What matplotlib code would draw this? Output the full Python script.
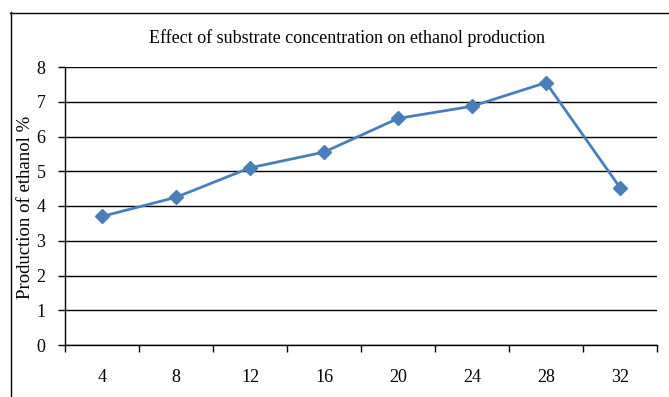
import numpy as np
import matplotlib.pyplot as plt
from matplotlib.lines import Line2D

# data
concentration = ['4', '8', '12', '16', '20', '24', '28', '32']
ethanol = [3.7, 4.25, 5.1, 5.55, 6.52, 6.87, 7.55, 4.53]

plt.rcParams['font.family'] = ['Liberation Serif', 'DejaVu Serif']

fig = plt.figure(figsize=(6.69, 3.97), dpi=100)
ax = fig.add_axes([65/669, 1-345/397, 592/669, 278/397])

pos = np.arange(len(concentration))
ax.plot(pos, ethanol, color='#4A7EBB', lw=2.0, marker='D', markersize=7,
        markerfacecolor='#4A7EBB', markeredgecolor='#4A7EBB', zorder=3)

ax.set_xlim(-0.5, len(concentration) - 0.5)
ax.set_ylim(0, 8)
ax.set_yticks(range(0, 9))
ax.yaxis.grid(True, color='black', lw=1.0)
ax.set_axisbelow(True)

# category labels centred, tick marks between categories
ax.set_xticks(np.arange(-0.5, len(concentration)), minor=False)
ax.set_xticklabels([])
ax.set_xticks(pos, minor=True)
ax.set_xticklabels(concentration, minor=True)
ax.tick_params(axis='x', which='minor', length=0, pad=17, labelsize=13)
ax.tick_params(axis='x', which='major', length=5, direction='out', width=1)
ax.tick_params(axis='y', length=5, direction='out', width=1, labelsize=13, pad=9)

for s in ['top', 'right']:
    ax.spines[s].set_visible(False)
for s in ['left', 'bottom']:
    ax.spines[s].set_color('black')
    ax.spines[s].set_linewidth(1.0)

ax.set_ylabel('Production of ethanol %', fontsize=13.5)
ax.yaxis.set_label_coords(-0.052, 0.495)
fig.text(347/669, 1-38/397, 'Effect of substrate concentration on ethanol production',
         ha='center', va='center', fontsize=13)

# outer chart frame (only left and top edges visible)
fig.add_artist(Line2D([10.5/669, 10.5/669], [0, 1-12/397], color='black', lw=1.0,
                      transform=fig.transFigure))
fig.add_artist(Line2D([10/669, 1], [1-12.5/397, 1-12.5/397], color='black', lw=1.0,
                      transform=fig.transFigure))

fig.savefig('out.png', dpi=100)
